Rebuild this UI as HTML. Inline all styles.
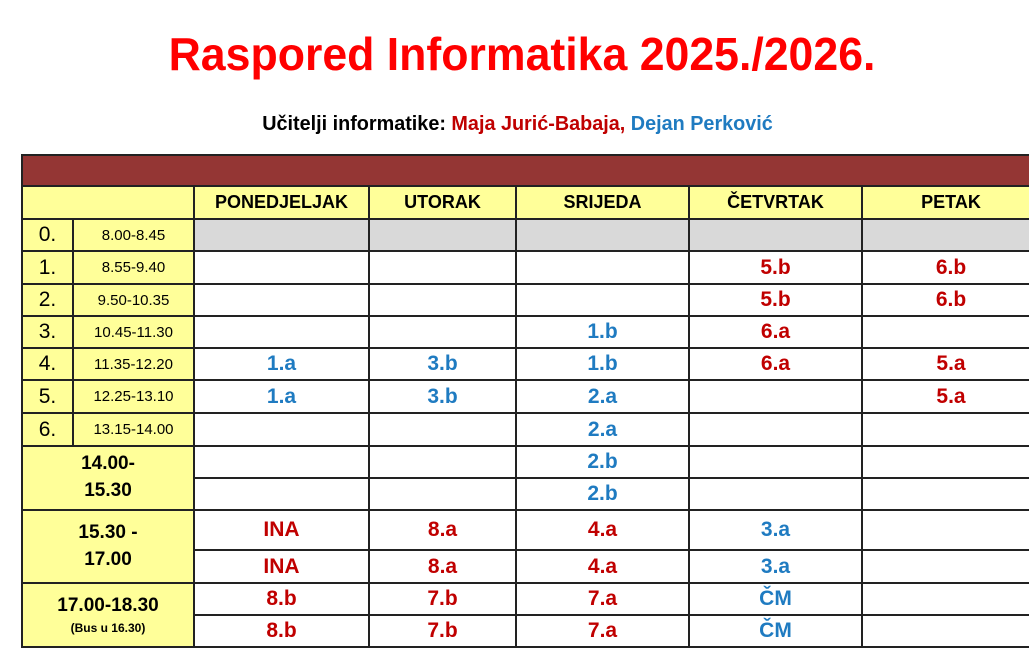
<!DOCTYPE html>
<html><head><meta charset="utf-8">
<style>
body{margin:0;width:1029px;height:664px;background:#fff;position:relative;overflow:hidden;font-family:"Liberation Sans",sans-serif;}
#title{position:absolute;left:0;width:1044px;top:26px;text-align:center;color:#f00;font-weight:bold;font-size:46px;line-height:56px;transform:scaleX(0.97);transform-origin:center;}
#sub{position:absolute;left:0;width:1035px;top:113px;text-align:center;font-weight:bold;font-size:20px;line-height:22px;transform:scaleX(0.99);}
.c{position:absolute;box-sizing:border-box;border:2px solid #222;display:flex;align-items:center;justify-content:center;text-align:center;}
.y{background:#ffff99;}
.red{color:#c00000;font-weight:bold;font-size:21px;}
.blue{color:#1f7bc1;font-weight:bold;font-size:21px;}
</style></head><body>
<div id="title">Raspored Informatika 2025./2026.</div>
<div id="sub">Učitelji informatike: <span style="color:#c00000">Maja Jurić-Babaja,</span> <span style="color:#1f7bc1">Dejan Perković</span></div>
<div id="tbl"></div>
<script>
const days=["PONEDJELJAK","UTORAK","SRIJEDA","ČETVRTAK","PETAK"];
const periods=["0.","1.","2.","3.","4.","5.","6."];
const times=["8.00-8.45","8.55-9.40","9.50-10.35","10.45-11.30","11.35-12.20","12.25-13.10","13.15-14.00"];
const grid=[
[["",""],["",""],["",""],["",""],["",""]],
[["",""],["",""],["",""],["5.b","r"],["6.b","r"]],
[["",""],["",""],["",""],["5.b","r"],["6.b","r"]],
[["",""],["",""],["1.b","b"],["6.a","r"],["",""]],
[["1.a","b"],["3.b","b"],["1.b","b"],["6.a","r"],["5.a","r"]],
[["1.a","b"],["3.b","b"],["2.a","b"],["",""],["5.a","r"]],
[["",""],["",""],["2.a","b"],["",""],["",""]],
[["",""],["",""],["2.b","b"],["",""],["",""]],
[["",""],["",""],["2.b","b"],["",""],["",""]],
[["INA","r"],["8.a","r"],["4.a","r"],["3.a","b"],["",""]],
[["INA","r"],["8.a","r"],["4.a","r"],["3.a","b"],["",""]],
[["8.b","r"],["7.b","r"],["7.a","r"],["ČM","b"],["",""]],
[["8.b","r"],["7.b","r"],["7.a","r"],["ČM","b"],["",""]]
];
const colX=[194,369,516,689,862,1040];
const rowY=[219,251,284,316,348,380,413,446,478,510,550,583,615,647];
const T=document.getElementById('tbl');
function cell(x,y,w,h,cls,html,name){
 const d=document.createElement('div');
 d.className='c '+cls;
 d.style.left=(x-1)+'px';d.style.top=(y-1)+'px';d.style.width=(w+2)+'px';d.style.height=(h+2)+'px';
 d.innerHTML=html;
 
 
 T.appendChild(d);return d;
}
const band=cell(22,155,1030,31,'','','header-band');band.style.background='#943634';
cell(22,186,172,33,'y','','corner-cell');
days.forEach((d,i)=>{const e=cell(colX[i],186,colX[i+1]-colX[i],33,'y',d,'day-header');e.style.fontWeight='bold';e.style.fontSize='18px';});
periods.forEach((p,i)=>{
 const a=cell(22,rowY[i],51,rowY[i+1]-rowY[i],'y',p,'period-number');a.style.fontSize='21px';
 const b=cell(73,rowY[i],121,rowY[i+1]-rowY[i],'y',times[i],'period-time');b.style.fontSize='15px';
});
const blocks=[[7,9,'14.00-<br>15.30'],[9,11,'15.30 -<br>17.00'],[11,13,'<div style="font-size:19px">17.00-18.30</div><div style="font-size:12px">(Bus u 16.30)</div>']];
blocks.forEach(b=>{const e=cell(22,rowY[b[0]],172,rowY[b[1]]-rowY[b[0]],'y',b[2],'afternoon-block');e.style.fontWeight='bold';e.style.fontSize='19px';e.style.lineHeight='1.4';e.style.flexDirection='column';});
grid.forEach((row,r)=>row.forEach((c,i)=>{
 const e=cell(colX[i],rowY[r],colX[i+1]-colX[i],rowY[r+1]-rowY[r],c[1]=='r'?'red':c[1]=='b'?'blue':'',c[0],'class-cell');
 if(r==0)e.style.background='#d9d9d9';
}));
</script>
</body></html>
